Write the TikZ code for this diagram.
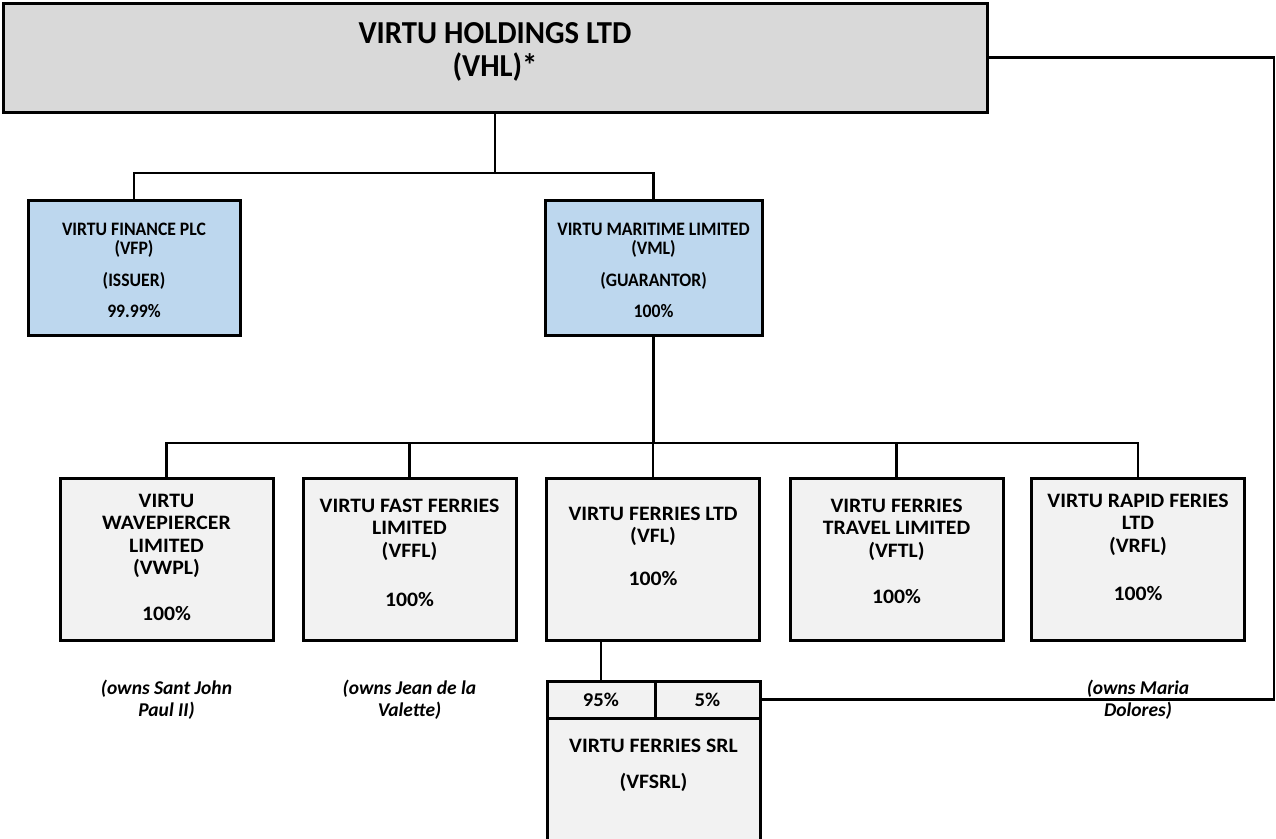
\documentclass[tikz,border=0pt]{standalone}
\usepackage{fontspec}
\setmainfont{Carlito}
\newfontfamily\widefont[FakeStretch=1.06]{Carlito}
\newfontfamily\narrowfont[FakeStretch=0.93]{Carlito}
\newfontfamily\titlefont[FakeStretch=0.96]{Carlito}
\definecolor{topgray}{HTML}{D9D9D9}
\definecolor{boxblue}{HTML}{BDD7EE}
\definecolor{boxgray}{HTML}{F2F2F2}
\begin{document}
\begin{tikzpicture}[x=1pt,y=-1pt,
  box/.style={draw=black, line width=3pt, rectangle, inner sep=0pt},
  topbox/.style={box, fill=topgray},
  bluebox/.style={box, fill=boxblue, minimum height=135pt},
  graybox/.style={box, fill=boxgray, minimum width=213pt, minimum height=162pt},
  cellbox/.style={box, fill=boxgray, minimum height=37pt, font=\widefont\bfseries\fontsize{19.5}{20}\selectfont},
  conn/.style={draw=black, line width=2.2pt},
  titletxt/.style={anchor=north, align=center, inner sep=0pt, font=\titlefont\bfseries\fontsize{32}{33}\selectfont},
  bluetxt/.style={anchor=north, align=center, inner sep=0pt, font=\narrowfont\bfseries\fontsize{19}{19.5}\selectfont},
  graytxt/.style={anchor=north, align=center, inner sep=0pt, font=\widefont\bfseries\fontsize{20.5}{22.5}\selectfont},
  captxt/.style={anchor=north, align=center, inner sep=0pt, font=\bfseries\itshape\fontsize{19.5}{22}\selectfont}
]
\useasboundingbox (0,0) rectangle (1276,838);

% boxes
\node[topbox, minimum width=984pt, minimum height=109pt] (vhl) at (495,57.5) {};
\node[bluebox, minimum width=212pt] (vfp) at (134,267.5) {};
\node[bluebox, minimum width=217pt] (vml) at (653.5,267.5) {};
\node[graybox] (vwpl) at (166.5,559) {};
\node[graybox] (vffl) at (409.5,559) {};
\node[graybox] (vfl) at (653,559) {};
\node[graybox] (vftl) at (896.5,559) {};
\node[graybox] (vrfl) at (1138,559) {};
\node[box, fill=boxgray, minimum width=213pt, minimum height=140pt] (srl) at (653.5,788) {};
\node[cellbox, minimum width=108pt] (c95) at (601,699.5) {95\%};
\node[cellbox, minimum width=105pt] (c5) at (707.5,699.5) {5\%};

% texts
\node[titletxt] (tvhl) at (495,22) {VIRTU HOLDINGS LTD\\(VHL)*};
\node[bluetxt] (tvfp) at (134,222.5) {VIRTU FINANCE PLC\\(VFP)\\[12.5pt](ISSUER)\\[11.5pt]99.99\%};
\node[bluetxt] (tvml) at (653.5,222.5) {VIRTU MARITIME LIMITED\\(VML)\\[12.5pt](GUARANTOR)\\[11.5pt]100\%};
\node[graytxt] (tvwpl) at (166.5,493.5) {VIRTU\\WAVEPIERCER\\LIMITED\\(VWPL)\\[23.5pt]100\%};
\node[graytxt] (tvffl) at (409.5,498.5) {VIRTU FAST FERRIES\\LIMITED\\(VFFL)\\[26.5pt]100\%};
\node[graytxt] (tvfl) at (653,506.5) {VIRTU FERRIES LTD\\(VFL)\\[20pt]100\%};
\node[graytxt] (tvftl) at (896.5,498.5) {VIRTU FERRIES\\TRAVEL LIMITED\\(VFTL)\\[23.5pt]100\%};
\node[graytxt] (tvrfl) at (1138,493.5) {VIRTU RAPID FERIES\\LTD\\(VRFL)\\[26pt]100\%};
\node[graytxt] (tsrl) at (653.5,738.5) {VIRTU FERRIES SRL\\[13.5pt](VFSRL)};

% captions
\node[captxt] (capwpl) at (166.5,680) {(owns Sant John\\Paul II)};
\node[captxt] (capffl) at (409.5,680) {(owns Jean de la\\Valette)};
\node[captxt] (caprfl) at (1138,680) {(owns Maria\\Dolores)};

% connectors
\coordinate (j1) at (495,173);
\coordinate (j2) at (0,443);
\coordinate (rt) at (1274,0);
\draw[conn] (vhl.south) -- (j1);
\draw[conn] (vfp.north) -- (vfp.north |- j1) -- (vml.north |- j1) -- (vml.north);
\draw[conn] (vml.south) -- (vml.south |- j2);
\draw[conn] (vwpl.north) -- (vwpl.north |- j2) -- (vrfl.north |- j2) -- (vrfl.north);
\foreach \n in {vffl,vfl,vftl} \draw[conn] (\n.north) -- (\n.north |- j2);
\draw[conn] (vfl.south -| c95) -- (c95.north);
\draw[conn] (c5.east) -- (c5.east -| rt) -- (vhl.east -| rt) -- (vhl.east);
\end{tikzpicture}
\end{document}
